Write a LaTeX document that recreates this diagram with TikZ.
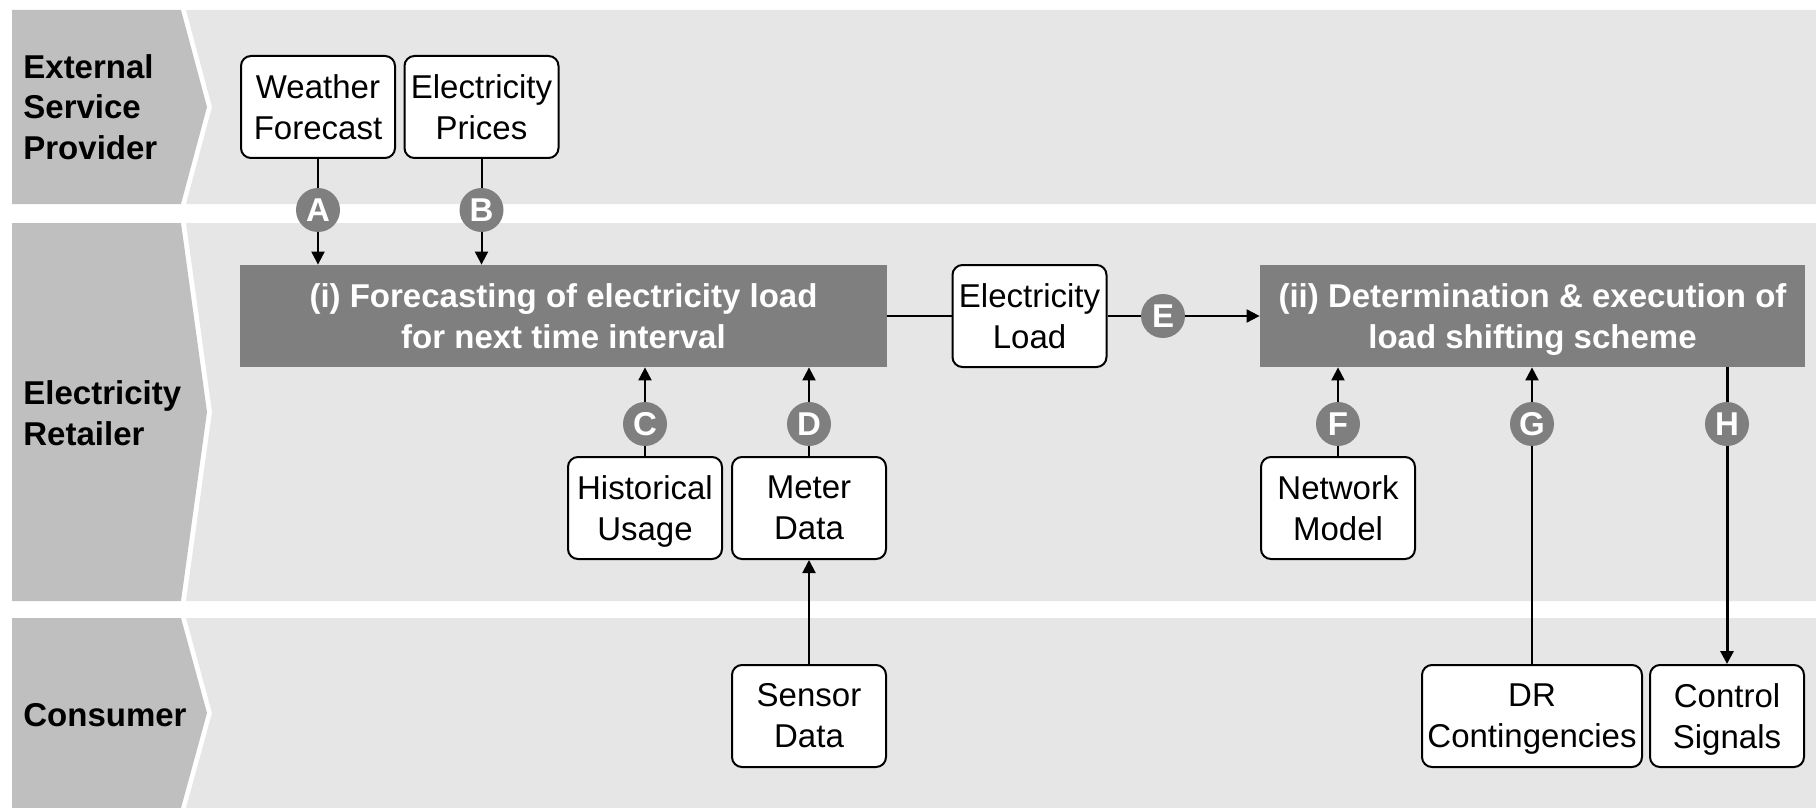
\documentclass[tikz,border=0pt]{standalone}
\usepackage{fontspec}
\setmainfont{Liberation Sans}
\usepackage{tikz}
\usetikzlibrary{arrows.meta}

\definecolor{lanegray}{HTML}{BFBFBF}
\definecolor{bandgray}{HTML}{E6E6E6}
\definecolor{procgray}{HTML}{7F7F7F}

% last line of a box text: keep its descenders out of the centring
\newcommand{\nodescent}[1]{\raisebox{0pt}[\height][0pt]{#1}}

\begin{document}
\begin{tikzpicture}[x=0.5pt,y=0.5pt]
	\tikzstyle{every node}+=[inner sep=0pt,font=\fontsize{16.5}{20.5}\selectfont]
	\tikzstyle{item}=[draw=black,line width=1pt,fill=white,rounded corners=5pt,align=center,minimum width=77pt,minimum height=51pt]
	\tikzstyle{proc}=[fill=procgray,text=white,font=\fontsize{16.5}{20.5}\selectfont\bfseries,align=center,minimum height=51pt]
	\tikzstyle{tag}=[circle,fill=procgray,text=white,font=\fontsize{16.5}{20.5}\selectfont\bfseries,minimum size=22pt]
	\tikzstyle{lane}=[anchor=west,align=left,font=\fontsize{16.5}{20.25}\selectfont\bfseries]
	\tikzstyle{link}=[line width=1pt]
	\tikzstyle{flow}=[line width=1pt,-{Triangle[length=6.5pt,width=6.5pt]}]
	\useasboundingbox (0,0) rectangle (1816,-808);
	% lanes
	\fill [bandgray] (186,-10) -- (1816,-10) -- (1816,-204) -- (186,-204) -- (212,-107) -- cycle;
	\fill [lanegray] (12,-10) -- (181,-10) -- (207,-107) -- (181,-204) -- (12,-204) -- cycle;
	\fill [bandgray] (186,-223) -- (1816,-223) -- (1816,-601) -- (186,-601) -- (212,-412) -- cycle;
	\fill [lanegray] (12,-223) -- (181,-223) -- (207,-412) -- (181,-601) -- (12,-601) -- cycle;
	\fill [bandgray] (186,-618) -- (1816,-618) -- (1816,-808) -- (186,-808) -- (212,-713) -- cycle;
	\fill [lanegray] (12,-618) -- (181,-618) -- (207,-713) -- (181,-808) -- (12,-808) -- cycle;
	\node [lane] (esp) at (23,-107) {External\\Service\\Provider};
	\node [lane] (ret) at (23,-413) {Electricity\\Retailer};
	\node [lane] (con) at (23,-715) {Consumer};
	% boxes
	\node [item] (wf) at (318,-107) {Weather\\Forecast};
	\node [item] (ep) at (481.5,-107) {Electricity\\Prices};
	\node [proc,minimum width=323.5pt] (p1) at (563.5,-316) {(i) Forecasting of electricity load\\for next time interval};
	\node [item] (load) at (1029.5,-316) {Electricity\\Load};
	\node [proc,minimum width=272.5pt] (p2) at (1532.5,-316) {(ii) Determination \& execution of\\\nodescent{load shifting scheme}};
	\node [item] (hist) at (645,-508) {Historical\\\nodescent{Usage}};
	\node [item] (meter) at (809,-508) {Meter\\Data};
	\node [item] (net) at (1338,-508) {Network\\Model};
	\node [item] (sensor) at (809,-716) {Sensor\\Data};
	\node [item,minimum width=110pt] (dr) at (1532,-716) {DR\\\nodescent{Contingencies}};
	\node [item] (ctrl) at (1727,-716) {Control\\\nodescent{Signals}};
	% letters
	\node [tag] (A) at (wf |- 0,-210) {A};
	\node [tag] (B) at (ep |- 0,-210) {B};
	\node [tag] (C) at (hist |- 0,-424) {C};
	\node [tag] (D) at (meter |- 0,-424) {D};
	\node [tag] (E) at (1163,-316) {E};
	\node [tag] (F) at (net |- 0,-424) {F};
	\node [tag] (G) at (dr |- 0,-424) {G};
	\node [tag] (H) at (ctrl |- 0,-424) {H};
	% connectors
	\draw [link] (wf) -- (A);
	\draw [flow] (A) -- (A |- p1.north);
	\draw [link] (ep) -- (B);
	\draw [flow] (B) -- (B |- p1.north);
	\draw [link] (hist) -- (C);
	\draw [flow] (C) -- (C |- p1.south);
	\draw [link] (meter) -- (D);
	\draw [flow] (D) -- (D |- p1.south);
	\draw [flow] (sensor) -- (meter);
	\draw [link] (p1) -- (load);
	\draw [link] (load) -- (E);
	\draw [flow] (E) -- (p2);
	\draw [link] (net) -- (F);
	\draw [flow] (F) -- (F |- p2.south);
	\draw [link] (dr) -- (G);
	\draw [flow] (G) -- (G |- p2.south);
	\draw [link,line width=1.5pt] (H |- p2.south) -- (H);
	\draw [flow,line width=1.5pt] (H) -- (ctrl);
\end{tikzpicture}
\end{document}
